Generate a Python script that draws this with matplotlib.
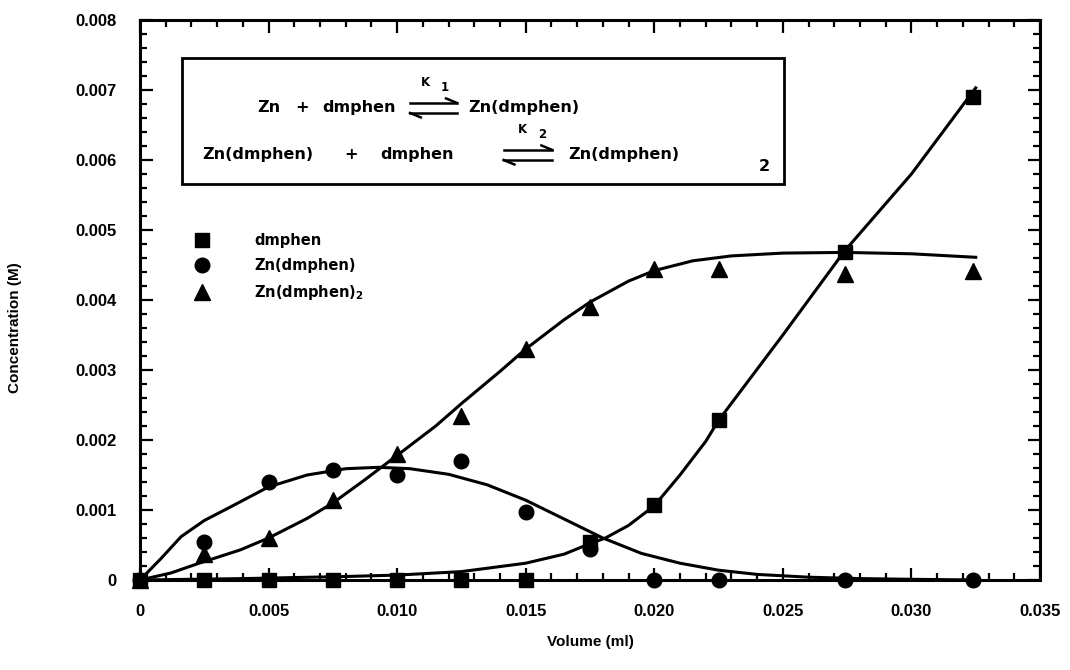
# Libraries
import matplotlib
matplotlib.use('Agg')
import matplotlib.pyplot as plt
from matplotlib.lines import Line2D

# Data: titration of Zn with dmphen
volume = [0, 0.0025, 0.005, 0.0075, 0.010, 0.0125, 0.015, 0.0175, 0.020, 0.0225, 0.0274, 0.0324]
dmphen = [0, 0, 0, 0, 0, 0, 0, 0.00054, 0.00107, 0.00228, 0.00469, 0.0069]
zn_mono = [0, 0.00054, 0.0014, 0.00157, 0.0015, 0.0017, 0.00097, 0.00045, 0, 0, 0, 0]
zn_bis = [0, 0.00037, 0.0006, 0.00115, 0.0018, 0.00235, 0.0033, 0.0039, 0.00445, 0.00445, 0.00437, 0.00442]

# fitted curves
fit_free_x = [0, 0.004, 0.008, 0.010, 0.0125, 0.015, 0.0165, 0.0175, 0.0181, 0.019, 0.020, 0.021,
              0.022, 0.0225, 0.025, 0.0274, 0.030, 0.0325]
fit_free_y = [0, 0.00002, 0.00005, 0.00007, 0.00012, 0.00024, 0.00037, 0.00052, 0.0006, 0.00078,
              0.00106, 0.0015, 0.00198, 0.00228, 0.0035, 0.0047, 0.0058, 0.00703]
fit_mono_x = [0, 0.0008, 0.0016, 0.0025, 0.0035, 0.005, 0.0065, 0.008, 0.0093, 0.0105, 0.012,
              0.0135, 0.015, 0.0165, 0.018, 0.0195, 0.021, 0.0225, 0.024, 0.026, 0.028, 0.030, 0.0325]
fit_mono_y = [0, 0.0003, 0.00062, 0.00085, 0.00104, 0.00133, 0.0015, 0.00159, 0.00161, 0.00159,
              0.00151, 0.00136, 0.00114, 0.00087, 0.0006, 0.00038, 0.00024, 0.00014, 0.00008,
              0.00004, 0.00002, 0.00001, 0]
fit_bis_x = [0, 0.0012, 0.0023, 0.0039, 0.005, 0.0065, 0.0075, 0.0087, 0.010, 0.0115, 0.0125,
             0.014, 0.015, 0.0165, 0.0175, 0.019, 0.020, 0.0215, 0.023, 0.025, 0.0274, 0.030, 0.0325]
fit_bis_y = [0, 0.0001, 0.00024, 0.00043, 0.0006, 0.00088, 0.0011, 0.00142, 0.00178, 0.0022,
             0.00252, 0.00298, 0.0033, 0.00372, 0.00397, 0.00427, 0.00442, 0.00456, 0.00463,
             0.00467, 0.00468, 0.00466, 0.00461]

x_ticks = [0, 0.005, 0.010, 0.015, 0.020, 0.025, 0.030, 0.035]
x_labels = ['0', '0.005', '0.010', '0.015', '0.020', '0.025', '0.030', '0.035']
y_ticks = [0, 0.001, 0.002, 0.003, 0.004, 0.005, 0.006, 0.007, 0.008]
y_labels = ['0', '0.001', '0.002', '0.003', '0.004', '0.005', '0.006', '0.007', '0.008']

# Visualization
fig = plt.figure(figsize=(10.7, 6.7), dpi=100)
ax = fig.add_axes([140 / 1070, 90 / 670, 900 / 1070, 560 / 670])

lw = 2.2
ax.plot(fit_free_x, fit_free_y, color='black', lw=lw, clip_on=False)
ax.plot(fit_mono_x, fit_mono_y, color='black', lw=lw, clip_on=False)
ax.plot(fit_bis_x, fit_bis_y, color='black', lw=lw, clip_on=False)

ax.plot(volume, dmphen, 's', color='black', ms=10, clip_on=False, zorder=5, label='dmphen')
ax.plot(volume, zn_mono, 'o', color='black', ms=10.5, clip_on=False, zorder=5, label='Zn(dmphen)')
ax.plot(volume, zn_bis, '^', color='black', ms=11, clip_on=False, zorder=5,
        label=r'Zn(dmphen)$_\mathbf{2}$')

ax.set_xlim(0, 0.035)
ax.set_ylim(0, 0.008)
ax.set_xticks(x_ticks)
ax.set_xticklabels(x_labels)
ax.set_yticks(y_ticks)
ax.set_yticklabels(y_labels)
ax.set_xticks([i * 0.001 for i in range(36)], minor=True)
ax.set_yticks([i * 0.0002 for i in range(41)], minor=True)
ax.tick_params(which='both', direction='in', top=True, right=True, width=1.6)
ax.tick_params(which='major', length=9, pad=17, labelsize=12)
ax.tick_params(which='minor', length=5)
for lab in ax.get_xticklabels() + ax.get_yticklabels():
    lab.set_fontweight('bold')
    lab.set_family('Liberation Sans')
for s in ax.spines.values():
    s.set_linewidth(2.2)

ax.set_xlabel('Volume (ml)', fontsize=11, fontweight='bold', family='Liberation Sans', labelpad=12)
ax.set_ylabel('Concentration (M)', fontsize=11, fontweight='bold', family='Liberation Sans')
ax.yaxis.set_label_coords(-0.131, 0.45)

leg = ax.legend(loc='upper left', bbox_to_anchor=(0.046, 0.63), frameon=False, handletextpad=2.6,
                labelspacing=0.7, borderaxespad=0,
                prop={'family': 'DejaVu Sans', 'weight': 'bold', 'size': 10.5})

# reaction box
box = plt.Rectangle((0.047, 0.707), 0.669, 0.225, transform=ax.transAxes, fill=False,
                    lw=2.0, color='black', zorder=4)
ax.add_patch(box)
tk = dict(transform=ax.transAxes, fontsize=11.5, fontweight='bold', family='DejaVu Sans',
          va='center', ha='left')
y1, y2 = 0.843, 0.759
ax.text(0.130, y1, 'Zn', **tk)
ax.text(0.18, y1, '+', **dict(tk, ha='center'))
ax.text(0.203, y1, 'dmphen', **tk)
ax.text(0.365, y1, 'Zn(dmphen)', **tk)
ax.text(0.069, y2, 'Zn(dmphen)', **tk)
ax.text(0.234, y2, '+', **dict(tk, ha='center'))
ax.text(0.267, y2, 'dmphen', **tk)
ax.text(0.476, y2, 'Zn(dmphen)', **tk)
ax.text(0.688, 0.738, '2', **tk)

sk = dict(transform=ax.transAxes, fontsize=8.5, fontweight='bold', family='DejaVu Sans',
          va='center', ha='left')


def harpoons(x0, x1, y, k, kx):
    # equilibrium arrow with K label above
    dy = 0.009
    ax.add_line(Line2D([x0, x1], [y + dy, y + dy], transform=ax.transAxes, color='black', lw=1.8))
    ax.add_line(Line2D([x1 - 0.012, x1], [y + dy + 0.008, y + dy], transform=ax.transAxes,
                       color='black', lw=1.8))
    ax.add_line(Line2D([x0, x1], [y - dy, y - dy], transform=ax.transAxes, color='black', lw=1.8))
    ax.add_line(Line2D([x0, x0 + 0.012], [y - dy, y - dy - 0.008], transform=ax.transAxes,
                       color='black', lw=1.8))
    ax.text(kx, y + 0.045, 'K', **sk)
    ax.text(kx + 0.022, y + 0.037, k, **sk)


harpoons(0.300, 0.352, y1, '1', 0.312)
harpoons(0.404, 0.458, y2, '2', 0.420)

fig.savefig('out.png', dpi=100)
